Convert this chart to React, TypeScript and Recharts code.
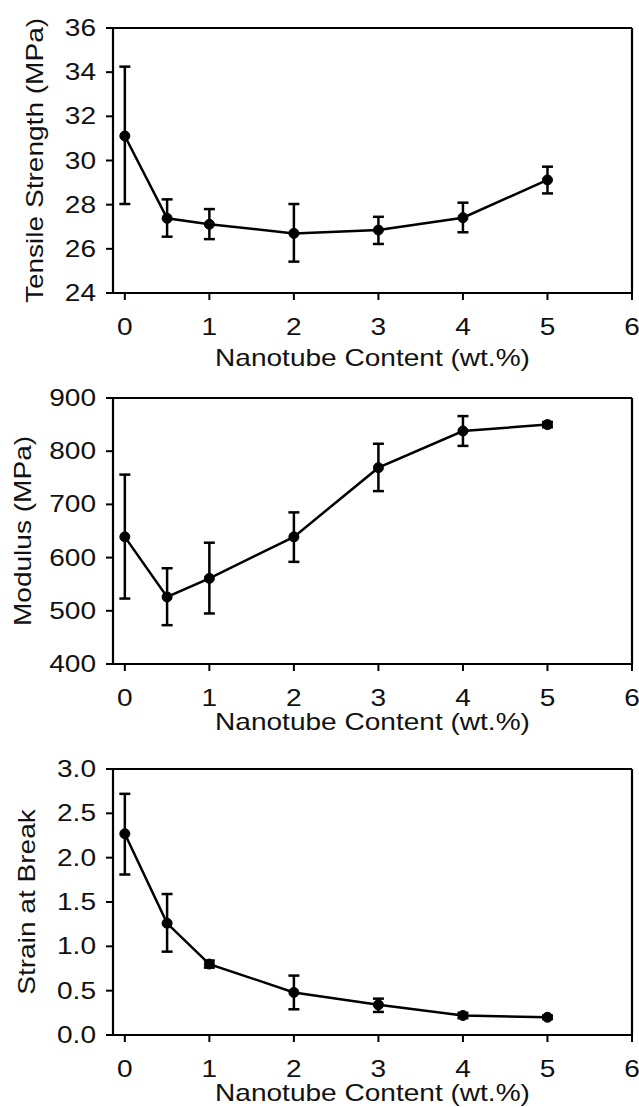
import React from 'react';
import { ComposedChart, Line, XAxis, YAxis, ErrorBar, ReferenceLine } from 'recharts';

const content = [0, 0.5, 1, 2, 3, 4, 5];
const xTicks = [0, 1, 2, 3, 4, 5, 6];

const tensile = [31.11, 27.38, 27.11, 26.7, 26.85, 27.41, 29.12];
const tensileHigh = [34.25, 28.24, 27.8, 28.03, 27.45, 28.09, 29.72];
const tensileLow = [28.03, 26.55, 26.44, 25.42, 26.22, 26.75, 28.51];
const tensileTicks = [24, 26, 28, 30, 32, 34, 36];

const modulus = [639, 526, 561, 639, 769, 838, 850];
const modulusHigh = [756, 580, 628, 685, 814, 866, 855];
const modulusLow = [523, 473, 495, 592, 725, 810, 845];
const modulusTicks = [400, 500, 600, 700, 800, 900];

const strain = [2.27, 1.26, 0.8, 0.48, 0.34, 0.22, 0.2];
const strainHigh = [2.72, 1.59, 0.84, 0.67, 0.41, 0.25, 0.22];
const strainLow = [1.81, 0.94, 0.76, 0.29, 0.26, 0.19, 0.18];
const strainTicks = [0, 0.5, 1, 1.5, 2, 2.5, 3];

const FONT = '"Liberation Sans", Arial, sans-serif';
const STRETCH = 1.22;
const INK = '#111';

const buildRows = (vals: number[], lo: number[], hi: number[]) =>
  content.map((c, i) => ({ x: c, y: vals[i], err: [vals[i] - lo[i], hi[i] - vals[i]] }));

const XTick = ({ x, y, payload }: any) => (
  <text transform={`translate(${x},${y + 33}) scale(${STRETCH},1)`} textAnchor="middle" fontSize={23} fontFamily={FONT} fill={INK}>
    {payload.value}
  </text>
);

const makeYTick = (fmt: (v: number) => string) => ({ x, y, payload }: any) => (
  <text transform={`translate(${x},${y + 8}) scale(${STRETCH},1)`} textAnchor="end" fontSize={23} fontFamily={FONT} fill={INK}>
    {fmt(payload.value)}
  </text>
);

const makeXTitle = (offset: number) => (props: any) => {
  const vb = props.viewBox;
  return (
    <text transform={`translate(${vb.x + vb.width / 2},${vb.y + offset}) scale(${STRETCH},1)`} textAnchor="middle" fontSize={23} fontFamily={FONT} fill={INK}>
      Nanotube Content (wt.%)
    </text>
  );
};

const makeYTitle = (text: string, cx: number) => (props: any) => {
  const vb = props.viewBox;
  const cy = vb.y + vb.height / 2;
  return (
    <text transform={`translate(${cx},${cy}) rotate(-90) scale(${STRETCH},1)`} textAnchor="middle" fontSize={23} fontFamily={FONT} fill={INK} dy={8}>
      {text}
    </text>
  );
};

type PanelProps = {
  top: number;
  height: number;
  marginTop: number;
  axisHeight: number;
  rows: any[];
  domain: [number, number];
  ticks: number[];
  fmt: (v: number) => string;
  yTitle: string;
  yTitleX: number;
  xTitleOffset: number;
};

const Panel: React.FC<PanelProps> = ({ top, height, marginTop, axisHeight, rows, domain, ticks, fmt, yTitle, yTitleX, xTitleOffset }) => (
  <div style={{ position: 'absolute', left: 0, top }}>
    <ComposedChart width={639} height={height} data={rows} margin={{ top: marginTop, right: 7, left: 0, bottom: 0 }}>
      <XAxis
        dataKey="x"
        type="number"
        domain={[-0.14, 6]}
        ticks={xTicks}
        allowDataOverflow
        height={axisHeight}
        axisLine={{ stroke: '#000', strokeWidth: 2.2 }}
        tickLine={{ stroke: '#000', strokeWidth: 2 }}
        tickSize={7}
        tickMargin={2}
        tick={<XTick />}
        label={makeXTitle(xTitleOffset)}
      />
      <YAxis
        type="number"
        domain={domain}
        ticks={ticks}
        allowDataOverflow
        width={113}
        axisLine={{ stroke: '#000', strokeWidth: 2.2 }}
        tickLine={{ stroke: '#000', strokeWidth: 2 }}
        tickSize={7}
        tickMargin={10}
        tick={makeYTick(fmt)}
        label={makeYTitle(yTitle, yTitleX)}
      />
      <ReferenceLine y={domain[1]} stroke="#000" strokeWidth={2.2} />
      <ReferenceLine x={6} stroke="#000" strokeWidth={2.2} />
      <Line
        dataKey="y"
        type="linear"
        stroke="#000"
        strokeWidth={2.5}
        dot={{ r: 5, fill: '#000', stroke: '#000', strokeWidth: 1 }}
        activeDot={false}
        isAnimationActive={false}
      >
        <ErrorBar dataKey="err" width={5.5} stroke="#000" strokeWidth={2.5} direction="y" />
      </Line>
    </ComposedChart>
  </div>
);

export default function App() {
  return (
    <div style={{ position: 'absolute', left: 0, top: 0, width: 639, height: 1107, background: '#fff' }}>
      <Panel
        top={0}
        height={380}
        marginTop={28}
        axisHeight={87}
        rows={buildRows(tensile, tensileLow, tensileHigh)}
        domain={[24, 36]}
        ticks={tensileTicks}
        fmt={(v) => String(v)}
        yTitle="Tensile Strength (MPa)"
        yTitleX={35}
        xTitleOffset={73}
      />
      <Panel
        top={369}
        height={370}
        marginTop={29}
        axisHeight={75}
        rows={buildRows(modulus, modulusLow, modulusHigh)}
        domain={[400, 900]}
        ticks={modulusTicks}
        fmt={(v) => String(v)}
        yTitle="Modulus (MPa)"
        yTitleX={23}
        xTitleOffset={66}
      />
      <Panel
        top={739}
        height={368}
        marginTop={30}
        axisHeight={72}
        rows={buildRows(strain, strainLow, strainHigh)}
        domain={[0, 3]}
        ticks={strainTicks}
        fmt={(v) => v.toFixed(1)}
        yTitle="Strain at Break"
        yTitleX={27}
        xTitleOffset={66}
      />
    </div>
  );
}
